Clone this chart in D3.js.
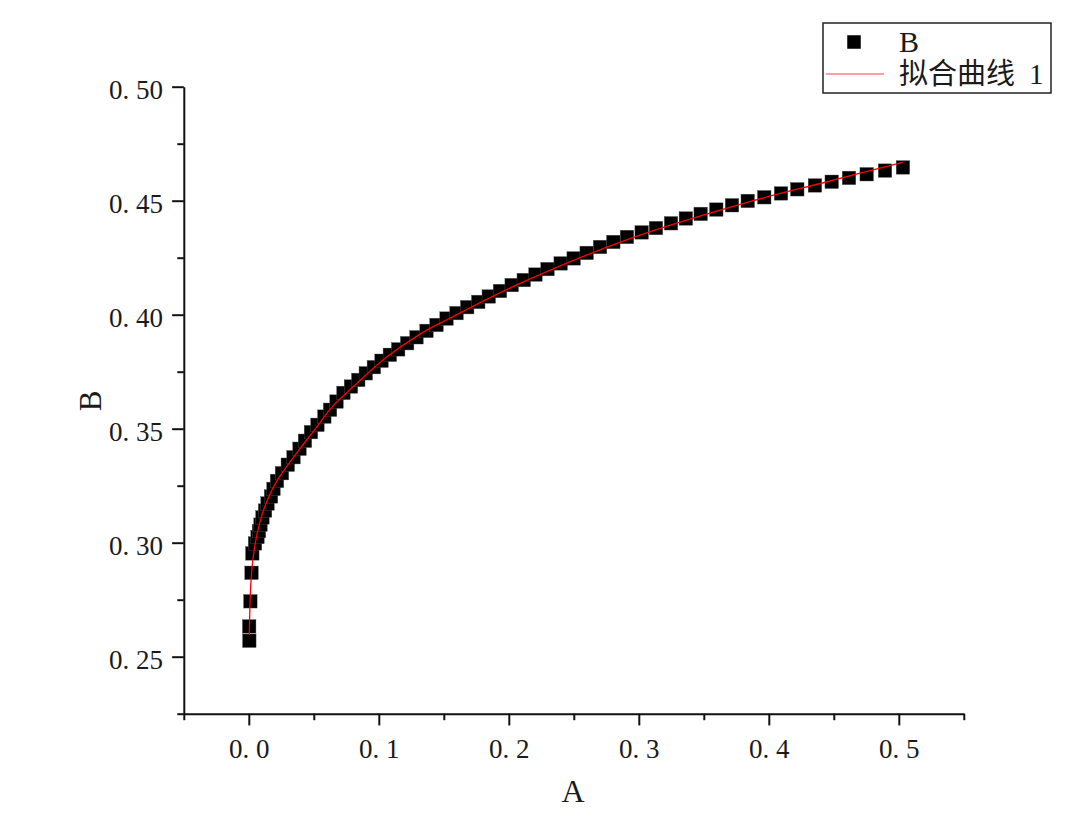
<!DOCTYPE html>
<html>
<head>
<meta charset="utf-8">
<script src="https://cdn.jsdelivr.net/npm/d3@7"></script>
<style>
  html, body { margin: 0; padding: 0; background: #fff; }
  svg { display: block; }
</style>
</head>
<body>
<svg id="chart" width="1080" height="825"></svg>
<script>
// ---- data ----
const seriesA = [0.0004,0.0003,0.0012,0.0021,0.0027,0.0048,0.0067,0.0078,0.0090,0.0105,
  0.0125,0.0144,0.0171,0.0190,0.0217,0.0255,0.0300,0.0344,0.0390,0.0432,
  0.0478,0.0528,0.0581,0.0625,0.0675,0.0728,0.0786,0.0842,0.0900,0.0962,
  0.1021,0.1085,0.1149,0.1218,0.1290,0.1367,0.1444,0.1521,0.1598,0.1680,
  0.1765,0.1846,0.1932,0.2022,0.2115,0.2205,0.2298,0.2399,0.2499,0.2599,
  0.2702,0.2804,0.2909,0.3022,0.3132,0.3248,0.3362,0.3476,0.3596,0.3717,
  0.3838,0.3965,0.4094,0.4219,0.4355,0.4484,0.4617,0.4753,0.4894,0.5032];
const seriesB = [0.2570,0.2633,0.2743,0.2868,0.2953,0.2997,0.3025,0.3051,0.3079,0.3111,
  0.3141,0.3172,0.3203,0.3236,0.3271,0.3305,0.3342,0.3375,0.3412,0.3447,
  0.3485,0.3517,0.3553,0.3583,0.3619,0.3657,0.3685,0.3714,0.3743,0.3770,
  0.3798,0.3824,0.3848,0.3875,0.3901,0.3929,0.3955,0.3983,0.4007,0.4033,
  0.4056,0.4080,0.4104,0.4130,0.4152,0.4176,0.4200,0.4225,0.4247,0.4271,
  0.4297,0.4319,0.4341,0.4361,0.4380,0.4401,0.4422,0.4442,0.4461,0.4480,
  0.4499,0.4515,0.4532,0.4550,0.4567,0.4583,0.4600,0.4616,0.4632,0.4646];
// fitted curve ("拟合曲线 1")
const fitA = [0.0004,0.0008,0.0015,0.0027,0.0044,0.0067,0.0094,0.0128,0.0171,0.0225,
  0.0294,0.0386,0.0494,0.0648,0.0809,0.1061,0.1317,0.1535,0.2086,0.2932,0.3855,0.4440,0.5030];
const fitB = [0.2595,0.2705,0.2814,0.2902,0.2977,0.3047,0.3108,0.3165,0.3222,0.3279,
  0.3336,0.3407,0.3486,0.3600,0.3687,0.3814,0.3915,0.3981,0.4137,0.4334,0.4496,0.4582,0.4668];
const xMajorTicks = [0.0,0.1,0.2,0.3,0.4,0.5];
const xMinorTicks = [-0.05,0.05,0.15,0.25,0.35,0.45,0.55];
const yMajorTicks = [0.25,0.30,0.35,0.40,0.45,0.50];
const yMinorTicks = [0.225,0.275,0.325,0.375,0.425,0.475];
const xTitle = "A";
const yTitle = "B";
const legendLabels = ["B", "拟合曲线", "1"];

// ---- drawing ----
const svg = d3.select("#chart");
const serif = "'Liberation Serif','Times New Roman','Noto Sans CJK SC',serif";
const x = d3.scaleLinear().domain([-0.05, 0.55]).range([183.8, 963.8]);
const y = d3.scaleLinear().domain([0.225, 0.5]).range([713.7, 86.7]);
const fmt = (p) => (d) => d3.format("." + p + "f")(d).replace(".", ". ");

function styleAxis(g) {
  g.selectAll(".domain").attr("stroke", "#111").attr("stroke-width", 2);
  g.selectAll(".tick line").attr("stroke", "#111").attr("stroke-width", 2);
  g.selectAll(".tick text").attr("fill", "#1a1a1a")
    .style("font-family", serif).style("font-size", "27px");
}

// x axis
const gxMinor = svg.append("g").attr("transform", "translate(0,713.7)")
  .call(d3.axisBottom(x).tickValues(xMinorTicks).tickSize(6.5).tickSizeOuter(0).tickFormat(""));
styleAxis(gxMinor);
const gx = svg.append("g").attr("transform", "translate(0,713.7)")
  .call(d3.axisBottom(x).tickValues(xMajorTicks).tickSize(11.7).tickSizeOuter(0).tickPadding(13).tickFormat(fmt(1)));
styleAxis(gx);
gx.select(".domain").remove();

// y axis
const gyMinor = svg.append("g").attr("transform", "translate(183.8,0)")
  .call(d3.axisLeft(y).tickValues(yMinorTicks).tickSize(6.5).tickSizeOuter(0).tickFormat(""));
styleAxis(gyMinor);
const gy = svg.append("g").attr("transform", "translate(183.8,0)")
  .call(d3.axisLeft(y).tickValues(yMajorTicks).tickSize(11.7).tickSizeOuter(0).tickPadding(9).tickFormat(fmt(2)));
styleAxis(gy);
gy.select(".domain").remove();
gy.selectAll(".tick text").attr("dy", "0.42em");

// axis titles
svg.append("text").attr("x", 573).attr("y", 802).attr("text-anchor", "middle")
  .style("font-family", serif).style("font-size", "32px").attr("fill", "#1a1a1a").text(xTitle);
svg.append("text").attr("transform", "translate(101,401) rotate(-90)").attr("text-anchor", "middle")
  .style("font-family", serif).style("font-size", "31px").attr("fill", "#1a1a1a").text(yTitle);

// data squares
const pts = seriesA.map((a, i) => ({a, b: seriesB[i]}));
const sz = 13.5;
svg.append("g").selectAll("rect").data(pts).join("rect")
  .attr("x", d => x(d.a) - sz / 2).attr("y", d => y(d.b) - sz / 2)
  .attr("width", sz).attr("height", sz)
  .attr("fill", "#000").attr("stroke", "#555").attr("stroke-width", 0.4);

// fitted curve
const fitPts = fitA.map((a, i) => [a, fitB[i]]);
svg.append("path").datum(fitPts)
  .attr("d", d3.line().x(d => x(d[0])).y(d => y(d[1])).curve(d3.curveCatmullRom.alpha(0.5)))
  .attr("fill", "none").attr("stroke", "#ff0000").attr("stroke-width", 1.3);

// legend
const lg = svg.append("g");
lg.append("rect").attr("x", 823).attr("y", 23).attr("width", 228).attr("height", 70)
  .attr("fill", "#fff").attr("stroke", "#222").attr("stroke-width", 1.5);
lg.append("rect").attr("x", 854 - sz / 2).attr("y", 42 - sz / 2).attr("width", sz).attr("height", sz).attr("fill", "#000");
lg.append("text").attr("x", 899).attr("y", 52).style("font-family", serif).style("font-size", "30px")
  .attr("fill", "#1a1a1a").text(legendLabels[0]);
lg.append("line").attr("x1", 826).attr("x2", 884).attr("y1", 74).attr("y2", 74)
  .attr("stroke", "#ff0000").attr("stroke-width", 1.2).attr("stroke-opacity", 0.75);
const lt = lg.append("text").attr("x", 899).attr("y", 84).style("font-family", serif).style("font-size", "29px")
  .attr("fill", "#1a1a1a");
lt.append("tspan").text(legendLabels[1]);
lt.append("tspan").attr("dx", 14).text(legendLabels[2]);
</script>
</body>
</html>
